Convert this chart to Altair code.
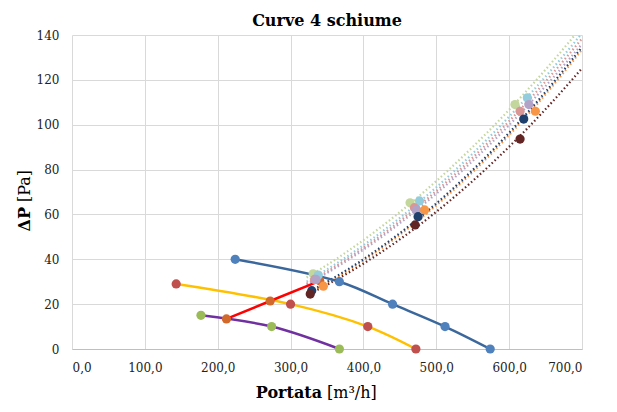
import altair as alt
import pandas as pd

title_text = "Curve 4 schiume"
x_title_parts = ["Portata", "[m³/h]"]
y_title_parts = ["ΔP", "[Pa]"]

x_ticks = [0, 100, 200, 300, 400, 500, 600, 700]
y_ticks = [0, 20, 40, 60, 80, 100, 120, 140]

# fan curves (smoothed lines)
fan_series = ["Ventilatore 1", "Ventilatore 2", "Ventilatore 3"]
fan_q = [[224, 367, 440, 512, 574], [143, 300, 406, 472], [177, 274, 367]]
fan_dp = [[40, 30, 20, 10, 0], [29, 20, 10, 0], [15, 10, 0]]
fan_line_colors = ["#3A679C", "#FFC000", "#7030A0"]
fan_point_colors = ["#4F81BD", "#C0504D", "#9BBB59"]

# operating points line
op_q = [212, 272, 340]
op_dp = [13.4, 21.4, 30.4]

# foam (system) curves with trendlines
sys_series = ["S1", "S2", "S3", "S4", "S5", "S6", "S7"]
sys_q = [
    [331, 464, 608],
    [338, 477, 625],
    [333, 470, 615],
    [335, 473, 627],
    [345, 484, 636],
    [329, 475, 620],
    [327, 471, 615],
]
sys_dp = [
    [33.5, 65.2, 109.0],
    [33.0, 66.0, 112.0],
    [31.0, 63.0, 106.0],
    [31.0, 62.0, 109.0],
    [28.0, 62.0, 106.0],
    [26.0, 59.0, 102.5],
    [24.5, 55.3, 93.6],
]
sys_colors = ["#C3D69B", "#93CDDD", "#D99694", "#B3A2C7", "#F79646", "#1F3F6D", "#632523"]

fan_df = pd.DataFrame(
    [(s, q, d) for s, qs, ds in zip(fan_series, fan_q, fan_dp) for q, d in zip(qs, ds)],
    columns=["serie", "q", "dp"],
)
op_df = pd.DataFrame({"q": op_q, "dp": op_dp})
sys_df = pd.DataFrame(
    [(s, q, d) for s, qs, ds in zip(sys_series, sys_q, sys_dp) for q, d in zip(qs, ds)],
    columns=["serie", "q", "dp"],
)

serif = "DejaVu Serif"

X = alt.X(
    "q:Q",
    scale=alt.Scale(domain=[0, 700], nice=False),
    axis=alt.Axis(
        values=x_ticks,
        labelExpr="replace(format(datum.value, '.1f'), '.', ',')",
        title=None,
        labelFont=serif,
    ),
)
Y = alt.Y(
    "dp:Q",
    scale=alt.Scale(domain=[0, 140], nice=False),
    axis=alt.Axis(values=y_ticks, title=None, labelFont=serif),
)

fan_lines = alt.Chart(fan_df).mark_line(interpolate="catmull-rom", strokeWidth=2.5).encode(
    x=X, y=Y,
    color=alt.Color("serie:N", scale=alt.Scale(domain=fan_series, range=fan_line_colors), legend=None),
)
fan_pts = alt.Chart(fan_df).mark_circle(size=85, opacity=1).encode(
    x=X, y=Y,
    color=alt.Color("serie:N", scale=alt.Scale(domain=fan_series, range=fan_point_colors), legend=None),
)

sys_lines = (
    alt.Chart(sys_df)
    .transform_regression("q", "dp", method="pow", groupby=["serie"], extent=[322, 700])
    .mark_line(strokeDash=[1.5, 2.5], strokeWidth=2.2, clip=True)
    .encode(
        x=X, y=Y,
        color=alt.Color("serie:N", scale=alt.Scale(domain=sys_series, range=sys_colors), legend=None),
    )
)
sys_pts = alt.Chart(sys_df).mark_circle(size=85, opacity=1).encode(
    x=X, y=Y,
    color=alt.Color("serie:N", scale=alt.Scale(domain=sys_series, range=sys_colors), legend=None),
)

op_line = alt.Chart(op_df).mark_line(color="#FF0000", strokeWidth=2.5).encode(x=X, y=Y)
op_pts = alt.Chart(op_df).mark_circle(size=85, opacity=1, color="#D2692C").encode(x=X, y=Y)

one = pd.DataFrame({"a": [0]})
xt_bold = alt.Chart(one).mark_text(
    text=x_title_parts[0], font=serif, fontSize=16, fontWeight="bold", align="right", baseline="middle"
).encode(x=alt.value(250), y=alt.value(358))
xt_norm = alt.Chart(one).mark_text(
    text=x_title_parts[1], font=serif, fontSize=16, align="left", baseline="middle"
).encode(x=alt.value(255), y=alt.value(358))
yt_bold = alt.Chart(one).mark_text(
    text=y_title_parts[0], font=serif, fontSize=16, fontWeight="bold", align="right",
    baseline="middle", angle=270,
).encode(x=alt.value(-47), y=alt.value(172))
yt_norm = alt.Chart(one).mark_text(
    text=y_title_parts[1], font=serif, fontSize=16, align="left", baseline="middle", angle=270,
).encode(x=alt.value(-47), y=alt.value(167))

chart = (
    alt.layer(sys_lines, fan_lines, op_line, fan_pts, op_pts, sys_pts,
              xt_bold, xt_norm, yt_bold, yt_norm)
    .resolve_scale(color="independent")
    .properties(
        width=510,
        height=314,
        autosize=alt.AutoSizeParams(type="none"),
        padding={"left": 64, "top": 27, "right": 27, "bottom": 60},
        title=alt.TitleParams(
            title_text, font=serif, fontSize=16, fontWeight="bold", color="#000000",
            anchor="middle", offset=0,
        ),
        background="white",
    )
    .configure_view(stroke=None)
    .configure_axis(
        labelFont=serif,
        labelFontSize=12,
        labelColor="#222222",
        gridColor="#D9D9D9",
        gridWidth=1,
        domain=False,
        ticks=False,
    )
    .configure_axisX(labelPadding=13, domain=True, domainColor="#BFBFBF")
    .configure_axisY(labelPadding=13)
)

chart.save("out.html", embed_options={"renderer": "svg", "actions": False})
